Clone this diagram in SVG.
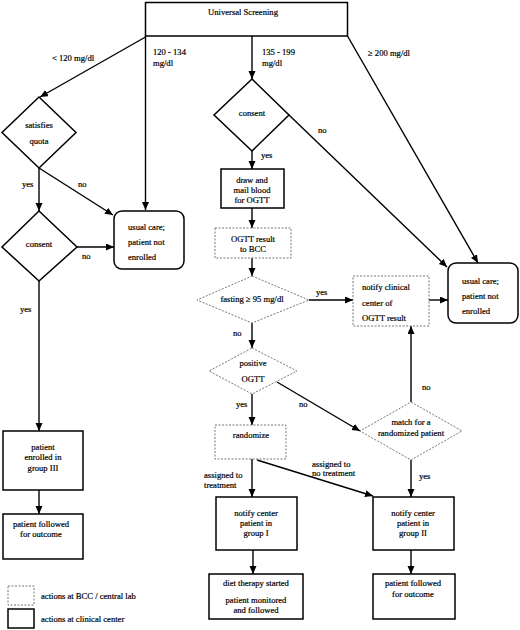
<svg xmlns="http://www.w3.org/2000/svg" width="520" height="630" viewBox="0 0 520 630">
<defs>
<marker id="ah" markerUnits="userSpaceOnUse" markerWidth="9" markerHeight="8" refX="8" refY="3.5" orient="auto">
<path d="M0,0 L8,3.5 L0,7 z" fill="#000"/>
</marker>
</defs>
<style>
text{font-family:"Liberation Serif","Times New Roman",serif;font-size:8.6px;fill:#000;stroke:#000;stroke-width:0.2;}
.c{text-anchor:middle;}
.solid{fill:#fff;stroke:#000;stroke-width:1.5;}
.dash{fill:#fff;stroke:#777;stroke-width:1;stroke-dasharray:2 1.5;}
.conn line{stroke:#000;stroke-width:1.4;fill:none;}
.arr{marker-end:url(#ah);}
</style>
<rect width="520" height="630" fill="#fff"/>
<g class="conn">
<line x1="145.5" y1="37" x2="40" y2="97" class="arr"/>
<line x1="145.5" y1="36" x2="145.5" y2="210" class="arr"/>
<line x1="252" y1="36" x2="252" y2="79" class="arr"/>
<line x1="347.5" y1="36" x2="478" y2="263" class="arr"/>
<line x1="289" y1="115" x2="447" y2="267" class="arr"/>
<line x1="39" y1="168" x2="39" y2="211" class="arr"/>
<line x1="39" y1="168" x2="113" y2="215" class="arr"/>
<line x1="77" y1="247" x2="114" y2="247" class="arr"/>
<line x1="39" y1="281" x2="39" y2="431" class="arr"/>
<line x1="39" y1="490" x2="39" y2="514" class="arr"/>
<line x1="252" y1="151" x2="252" y2="169" class="arr"/>
<line x1="252" y1="208" x2="252" y2="228" class="arr"/>
<line x1="252" y1="258" x2="252" y2="276" class="arr"/>
<line x1="309" y1="300" x2="353" y2="300" class="arr"/>
<line x1="429" y1="300" x2="448" y2="300" class="arr"/>
<line x1="252" y1="323" x2="252" y2="348" class="arr"/>
<line x1="277" y1="382" x2="360" y2="431" class="arr"/>
<line x1="411" y1="402" x2="411" y2="326" class="arr"/>
<line x1="252" y1="394" x2="252" y2="425" class="arr"/>
<line x1="252" y1="459" x2="252" y2="497" class="arr"/>
<line x1="257" y1="460" x2="373" y2="496" class="arr"/>
<line x1="411" y1="460" x2="411" y2="497" class="arr"/>
<line x1="253" y1="550" x2="253" y2="574" class="arr"/>
<line x1="411" y1="550" x2="411" y2="574" class="arr"/>
</g>
<g id="labels">
<text x="52" y="61">&lt; 120 mg/dl</text>
<text x="153" y="55">120 - 134</text>
<text x="153" y="66">mg/dl</text>
<text x="262" y="55">135 - 199</text>
<text x="262" y="66">mg/dl</text>
<text x="368" y="56">≥ 200 mg/dl</text>
<text x="318" y="133">no</text>
<text x="261" y="158">yes</text>
<text x="22" y="187">yes</text>
<text x="78" y="187">no</text>
<text x="82" y="259">no</text>
<text x="20" y="312">yes</text>
<text x="316" y="295">yes</text>
<text x="233" y="336">no</text>
<text x="422" y="390">no</text>
<text x="299" y="407">no</text>
<text x="236" y="407">yes</text>
<text x="204" y="478">assigned to</text>
<text x="204" y="488">treatment</text>
<text x="312" y="467">assigned to</text>
<text x="312" y="476">no treatment</text>
<text x="419" y="479">yes</text>
</g>
<g id="universal">
<rect class="solid" x="145.5" y="2.5" width="202" height="33.5"/>
<text class="c" x="243" y="15">Universal Screening</text>
</g>
<g id="quota">
<polygon class="solid" points="39,97 76,132.5 39,168 2,132.5"/>
<text class="c" x="39" y="128">satisfies</text>
<text class="c" x="39" y="144">quota</text>
</g>
<g id="consentL">
<polygon class="solid" points="39,211 77,247 39,281 2,247"/>
<text class="c" x="39" y="247">consent</text>
</g>
<g id="usualL">
<rect class="solid" x="114" y="211" width="70" height="58" rx="8"/>
<text x="128" y="230">usual care;</text>
<text x="128" y="245">patient not</text>
<text x="128" y="260">enrolled</text>
</g>
<g id="group3">
<rect class="solid" x="3" y="431" width="80" height="59"/>
<text class="c" x="43" y="450">patient</text>
<text class="c" x="43" y="460">enrolled in</text>
<text class="c" x="43" y="471">group  III</text>
</g>
<g id="followL">
<rect class="solid" x="3" y="514" width="80" height="45"/>
<text class="c" x="41" y="527">patient followed</text>
<text class="c" x="41" y="537">for outcome</text>
</g>
<g id="consentM">
<polygon class="solid" points="252,79 289,115 252,151 214,115"/>
<text class="c" x="252" y="116">consent</text>
</g>
<g id="draw">
<rect class="solid" x="221" y="169" width="63" height="39"/>
<text class="c" x="252" y="183">draw and</text>
<text class="c" x="252" y="193">mail blood</text>
<text class="c" x="252" y="203">for OGTT</text>
</g>
<g id="ogttres">
<rect class="dash" x="215" y="228" width="76" height="30"/>
<text class="c" x="253" y="242">OGTT result</text>
<text class="c" x="253" y="252">to BCC</text>
</g>
<g id="fasting">
<polygon class="dash" points="252,276 309,300 252,323 197,300"/>
<text class="c" x="252" y="302">fasting  ≥ 95 mg/dl</text>
</g>
<g id="notifyclin">
<rect class="dash" x="353" y="276" width="76" height="50"/>
<text x="362" y="290">notify clinical</text>
<text x="362" y="306">center of</text>
<text x="362" y="321">OGTT result</text>
</g>
<g id="usualR">
<rect class="solid" x="448" y="263" width="70" height="60" rx="8"/>
<text x="462" y="284">usual care;</text>
<text x="462" y="299">patient not</text>
<text x="462" y="314">enrolled</text>
</g>
<g id="positive">
<polygon class="dash" points="252,348 297,371 252,394 209,371"/>
<text class="c" x="253" y="366">positive</text>
<text class="c" x="253" y="382">OGTT</text>
</g>
<g id="match">
<polygon class="dash" points="411,402 462,431 411,460 360,431"/>
<text class="c" x="411" y="425">match for a</text>
<text class="c" x="411" y="436">randomized patient</text>
</g>
<g id="randomize">
<rect class="dash" x="215" y="425" width="71" height="34"/>
<text class="c" x="251" y="438">randomize</text>
</g>
<g id="group1">
<rect class="solid" x="216" y="497" width="81" height="53"/>
<text class="c" x="256" y="516">notify center</text>
<text class="c" x="256" y="526">patient in</text>
<text class="c" x="256" y="536">group  I</text>
</g>
<g id="group2">
<rect class="solid" x="373" y="497" width="81" height="53"/>
<text class="c" x="413" y="516">notify center</text>
<text class="c" x="413" y="526">patient in</text>
<text class="c" x="413" y="536">group  II</text>
</g>
<g id="diet">
<rect class="solid" x="209" y="574" width="94" height="45"/>
<text class="c" x="256" y="586">diet therapy started</text>
<text class="c" x="256" y="603">patient monitored</text>
<text class="c" x="256" y="613">and followed</text>
</g>
<g id="followR">
<rect class="solid" x="373" y="574" width="82" height="45"/>
<text class="c" x="413" y="586">patient followed</text>
<text class="c" x="413" y="597">for outcome</text>
</g>
<g id="legend">
<rect class="dash" x="8" y="586" width="26" height="19"/>
<text x="41" y="599">actions at BCC / central lab</text>
<rect class="solid" x="8" y="609" width="26" height="19"/>
<text x="41" y="622">actions at clinical center</text>
</g>
</svg>
